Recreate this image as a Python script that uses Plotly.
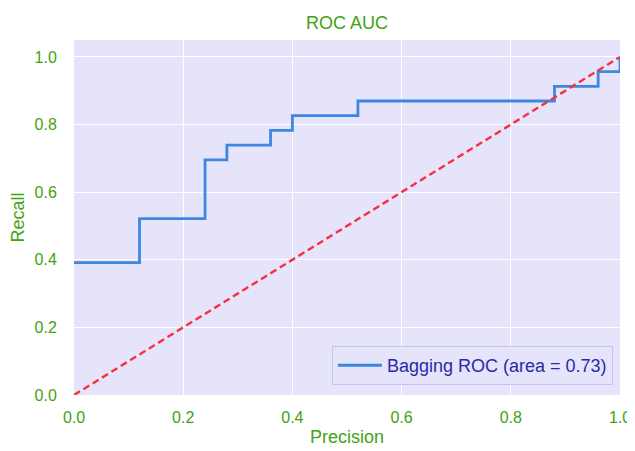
import plotly.graph_objects as go

fpr = [0.0, 0.12, 0.12, 0.24, 0.24, 0.28, 0.28, 0.36, 0.36, 0.40, 0.40, 0.52, 0.52, 0.88, 0.88, 0.96, 0.96, 1.0, 1.0]
tpr = [9/23, 9/23, 12/23, 12/23, 16/23, 16/23, 17/23, 17/23, 18/23, 18/23, 19/23, 19/23, 20/23, 20/23, 21/23, 21/23, 22/23, 22/23, 1.0]
diag_x = [0.0, 1.0]
diag_y = [0.0, 1.0]
ticks = [0.0, 0.2, 0.4, 0.6, 0.8, 1.0]
tick_labels = ["0.0", "0.2", "0.4", "0.6", "0.8", "1.0"]

green = "#3fa312"
font = "Liberation Sans, Arial, sans-serif"

fig = go.Figure()
fig.add_trace(go.Scatter(x=fpr, y=tpr, mode="lines", name="Bagging ROC (area = 0.73)",
                         line=dict(color="#3d87e0", width=2.8)))
fig.add_trace(go.Scatter(x=diag_x, y=diag_y, mode="lines", showlegend=False,
                         line=dict(color="#f5303f", width=2.4, dash="7px,4px")))

axis_common = dict(showgrid=True, gridcolor="white", gridwidth=1.3, zeroline=False, showline=False,
                   ticks="outside", tickcolor="rgba(0,0,0,0)", automargin=False,
                   tickfont=dict(size=16, color=green))

# page body has an 8px margin, so the figure is sized to the remaining viewport
fig.update_layout(
    width=627, height=443,
    margin=dict(l=66, r=15, t=32, b=56),
    paper_bgcolor="white", plot_bgcolor="#e6e4fa",
    font=dict(family=font, size=16, color=green),
    title=dict(text="ROC AUC", x=0.5, xanchor="center", xref="paper", y=1 - 15 / 443, yref="container",
               yanchor="middle", font=dict(size=18, color=green)),
    xaxis=dict(range=[0, 1], tickvals=ticks, ticktext=tick_labels, ticklen=8,
               title=dict(text="Precision", standoff=5, font=dict(size=18, color=green)), **axis_common),
    yaxis=dict(range=[0, 1.05], tickvals=ticks, ticktext=tick_labels, ticklen=13,
               title=dict(text="Recall", standoff=8, font=dict(size=18, color=green)), **axis_common),
    legend=dict(x=0.987, y=0.028, xanchor="right", yanchor="bottom", bgcolor="#e6e4fa",
                bordercolor="#c4c4f2", borderwidth=1, itemwidth=44,
                font=dict(size=18, color="#2a2aa8")),
)

fig.write_html("out.html")
